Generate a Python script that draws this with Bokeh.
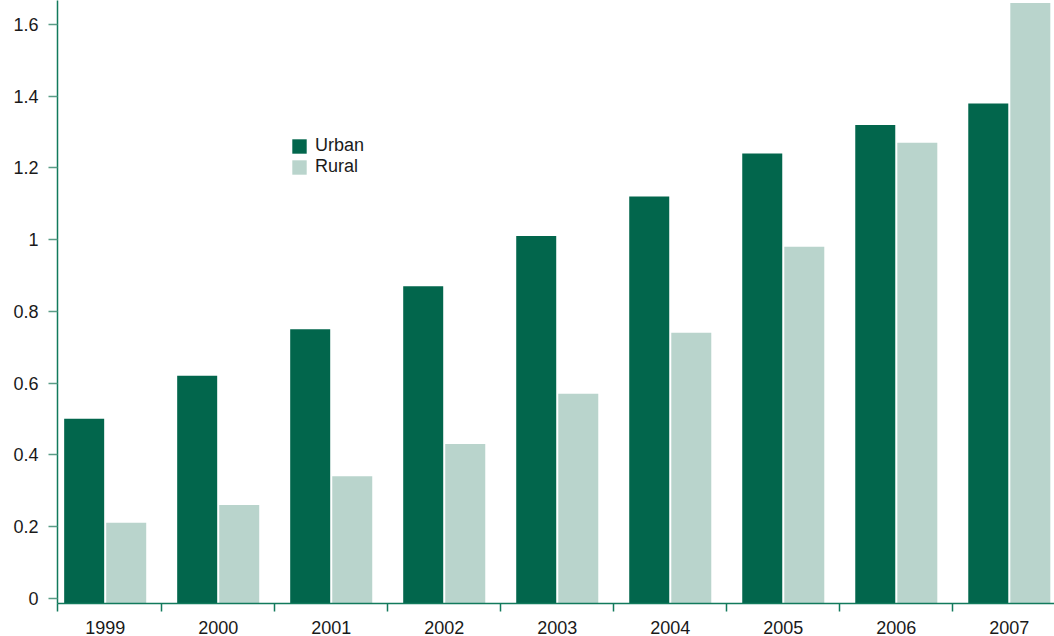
from bokeh.plotting import figure
from bokeh.models import Range1d, FixedTicker, Legend, LegendItem, NumeralTickFormatter
from bokeh.embed import file_html
from bokeh.resources import INLINE

# ---- data ----
years = ["1999", "2000", "2001", "2002", "2003", "2004", "2005", "2006", "2007"]
urban = [0.50, 0.62, 0.75, 0.87, 1.01, 1.12, 1.24, 1.32, 1.38]
rural = [0.21, 0.26, 0.34, 0.43, 0.57, 0.74, 0.98, 1.27, 1.66]
y_ticks = [0, 0.2, 0.4, 0.6, 0.8, 1.0, 1.2, 1.4, 1.6]

# ---- layout / style ----
Y0, Y1 = -0.015, 1.667
X0, X1 = -0.422, 8.40
BAR_W = 0.354
OFFSET = 0.186
URBAN_C = "#02664C"
RURAL_C = "#B9D4CC"
AXIS_C = "#127A5C"
TICK_C = "#5A9C86"
TEXT_C = "#1A1A1A"
FONT = "Liberation Sans"

idx = list(range(len(years)))
x_urban = [i - OFFSET for i in idx]
x_rural = [i + OFFSET for i in idx]

p = figure(width=1054, height=636,
           x_range=Range1d(X0, X1), y_range=Range1d(Y0, Y1),
           output_backend="svg", toolbar_location=None,
           min_border_left=57, min_border_right=0,
           min_border_top=0, min_border_bottom=30)
p.outline_line_color = None
p.xgrid.visible = False
p.ygrid.visible = False
p.background_fill_color = "white"

r_u = p.vbar(x=x_urban, top=urban, bottom=Y0, width=BAR_W,
             fill_color=URBAN_C, line_color=None)
r_r = p.vbar(x=x_rural, top=rural, bottom=Y0, width=BAR_W,
             fill_color=RURAL_C, line_color=None)

# x axis: labels at category centres, ticks at boundaries (minor ticks)
xa = p.xaxis[0]
xa.ticker = FixedTicker(ticks=idx, minor_ticks=[X0] + [i + 0.5 for i in idx[:-1]])
xa.major_label_overrides = {i: years[i] for i in idx}
xa.major_tick_out = 0
xa.major_tick_in = 0
xa.minor_tick_out = 8
xa.minor_tick_in = 0
xa.minor_tick_line_color = AXIS_C
xa.minor_tick_line_width = 1.5
xa.axis_line_color = AXIS_C
xa.axis_line_width = 1.5
xa.major_label_standoff = 9
xa.major_label_text_font = FONT
xa.major_label_text_font_size = "18px"
xa.major_label_text_color = TEXT_C

ya = p.yaxis[0]
ya.ticker = FixedTicker(ticks=y_ticks, minor_ticks=[])
ya.formatter = NumeralTickFormatter(format="0.[0]")
ya.major_tick_out = 9
ya.major_tick_in = 0
ya.major_tick_line_color = TICK_C
ya.major_tick_line_width = 1.5
ya.minor_tick_line_color = None
ya.axis_line_color = AXIS_C
ya.axis_line_width = 1.5
ya.major_label_standoff = 10
ya.major_label_text_font = FONT
ya.major_label_text_font_size = "18px"
ya.major_label_text_color = TEXT_C

legend = Legend(items=[LegendItem(label="Urban", renderers=[r_u]),
                       LegendItem(label="Rural", renderers=[r_r])],
                location=(233, 426),
                border_line_color=None, background_fill_alpha=0,
                padding=0, margin=0, spacing=0,
                glyph_width=18, glyph_height=18, label_height=18,
                label_standoff=7, label_text_font=FONT,
                label_text_font_size="18px", label_text_color=TEXT_C)
p.add_layout(legend)

open("out.html", "w").write(file_html(p, INLINE))
